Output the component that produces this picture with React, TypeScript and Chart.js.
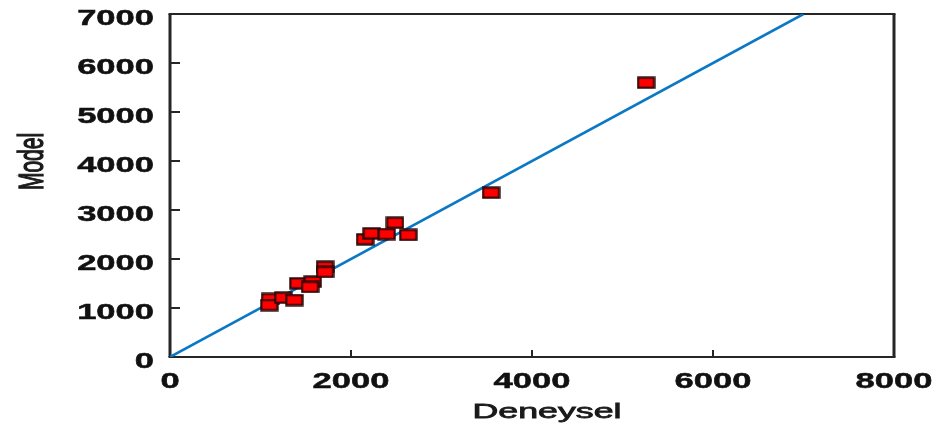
import React, { useEffect, useRef } from "react";
import { Chart, registerables } from "chart.js";

Chart.register(...registerables);

// ---- data ----
const deneysel = [1105, 1097, 1252, 1373, 1418, 1577, 1547, 1713, 1713, 2155, 2229, 2394, 2486, 2633, 3547, 5260];
const model = [1184, 1061, 1210, 1163, 1504, 1537, 1429, 1843, 1735, 2402, 2524, 2510, 2741, 2490, 3353, 5598];
const lineX = [0, 7000];
const lineY = [0, 7000];
const X_MIN = 0, X_MAX = 8000, X_STEP = 2000;
const Y_MIN = 0, Y_MAX = 7000, Y_STEP = 1000;
const xTitle = "Deneysel";
const yTitle = "Model";

const W = 942, H = 433;
const STRETCH = 1.57;
const TITLE_STRETCH = 1.7;

function makeMarker(): HTMLCanvasElement {
  const c = document.createElement("canvas");
  c.width = 19;
  c.height = 13;
  const g = c.getContext("2d")!;
  g.fillStyle = "rgba(60,0,0,0.35)";
  g.fillRect(0, 0, 19, 13);
  g.fillStyle = "#2b0808";
  g.fillRect(0.5, 0.5, 18, 12);
  g.fillStyle = "#ff0000";
  g.fillRect(2.5, 2.5, 14, 8);
  return c;
}

const framePlugin = {
  id: "frame",
  beforeDatasetsDraw(chart: any) {
    const { ctx, chartArea } = chart;
    const { left, right, top, bottom } = chartArea;
    const xs = chart.scales.x, ys = chart.scales.y;
    ctx.save();
    ctx.strokeStyle = "#262626";
    ctx.lineWidth = 2.2;
    ctx.beginPath();
    ctx.moveTo(left - 1.5, top); ctx.lineTo(right + 1.5, top);
    ctx.moveTo(left - 1.5, bottom); ctx.lineTo(right + 1.5, bottom);
    ctx.stroke();
    ctx.lineWidth = 3;
    ctx.beginPath();
    ctx.moveTo(left, top); ctx.lineTo(left, bottom);
    ctx.moveTo(right, top); ctx.lineTo(right, bottom);
    ctx.stroke();
    ctx.lineWidth = 2;
    ctx.beginPath();
    xs.ticks.forEach((t: any) => {
      const px = xs.getPixelForValue(t.value);
      ctx.moveTo(px, bottom); ctx.lineTo(px, bottom - 7);
    });
    ys.ticks.forEach((t: any) => {
      const py = ys.getPixelForValue(t.value);
      ctx.moveTo(left, py); ctx.lineTo(left + 10, py);
    });
    ctx.stroke();
    ctx.restore();
  },
  afterDraw(chart: any) {
    const { ctx, chartArea } = chart;
    const { left, right, top, bottom } = chartArea;
    const xs = chart.scales.x, ys = chart.scales.y;
    ctx.save();
    ctx.fillStyle = "#111";
    ctx.strokeStyle = "#111";
    ctx.lineWidth = 0.5;
    ctx.font = "bold 22px 'Liberation Sans', Arial, sans-serif";
    ctx.textBaseline = "alphabetic";
    xs.ticks.forEach((t: any) => {
      const px = xs.getPixelForValue(t.value);
      ctx.save();
      ctx.translate(px, 388);
      ctx.scale(STRETCH, 1);
      ctx.textAlign = "center";
      ctx.fillText(String(t.value), 0, 0);
      ctx.strokeText(String(t.value), 0, 0);
      ctx.restore();
    });
    ys.ticks.forEach((t: any) => {
      const py = ys.getPixelForValue(t.value);
      ctx.save();
      ctx.translate(left - 16, py + 11);
      ctx.scale(STRETCH, 1);
      ctx.textAlign = "right";
      ctx.fillText(String(t.value), 0, 0);
      ctx.strokeText(String(t.value), 0, 0);
      ctx.restore();
    });
    ctx.font = "21px 'Liberation Sans', Arial, sans-serif";
    ctx.fillStyle = "#1a1a1a";
    ctx.strokeStyle = "#1a1a1a";
    ctx.lineWidth = 0.8;
    ctx.save();
    ctx.translate((left + right) / 2 + 15, 418);
    ctx.scale(TITLE_STRETCH, 1);
    ctx.textAlign = "center";
    ctx.fillText(xTitle, 0, 0);
    ctx.strokeText(xTitle, 0, 0);
    ctx.restore();
    ctx.save();
    ctx.translate(43, (top + bottom) / 2 - 24);
    ctx.scale(TITLE_STRETCH, 1);
    ctx.rotate(-Math.PI / 2);
    ctx.textAlign = "center";
    ctx.fillText(yTitle, 0, 0);
    ctx.strokeText(yTitle, 0, 0);
    ctx.restore();
    ctx.restore();
  },
};

export default function App() {
  const ref = useRef<HTMLCanvasElement>(null);
  useEffect(() => {
    document.body.style.margin = "0";
    const marker = makeMarker();
    const points = deneysel.map((v, i) => ({ x: v, y: model[i] }));
    const line = lineX.map((v, i) => ({ x: v, y: lineY[i] }));
    const chart = new Chart(ref.current!, {
      type: "scatter",
      data: {
        datasets: [
          {
            label: "Data",
            data: points,
            pointStyle: marker as any,
            pointRadius: 8,
            order: 0,
          },
          {
            label: "Fit",
            data: line,
            showLine: true,
            borderColor: "#0a78c4",
            borderWidth: 2.6,
            pointRadius: 0,
            order: 1,
          },
        ],
      },
      options: {
        animation: false,
        responsive: false,
        devicePixelRatio: 1,
        layout: { padding: { left: 170, right: 48, top: 14, bottom: 76 } },
        plugins: { legend: { display: false }, tooltip: { enabled: false } },
        scales: {
          x: {
            type: "linear",
            min: X_MIN,
            max: X_MAX,
            ticks: { stepSize: X_STEP, display: false },
            grid: { display: false },
            border: { display: false },
            afterFit: (s: any) => { s.height = 0; },
          },
          y: {
            type: "linear",
            min: Y_MIN,
            max: Y_MAX,
            ticks: { stepSize: Y_STEP, display: false },
            grid: { display: false },
            border: { display: false },
            afterFit: (s: any) => { s.width = 0; },
          },
        },
      },
      plugins: [framePlugin],
    });
    return () => chart.destroy();
  }, []);
  return (
    <div style={{ width: W, height: H, background: "#fff" }}>
      <canvas ref={ref} width={W} height={H} />
    </div>
  );
}
